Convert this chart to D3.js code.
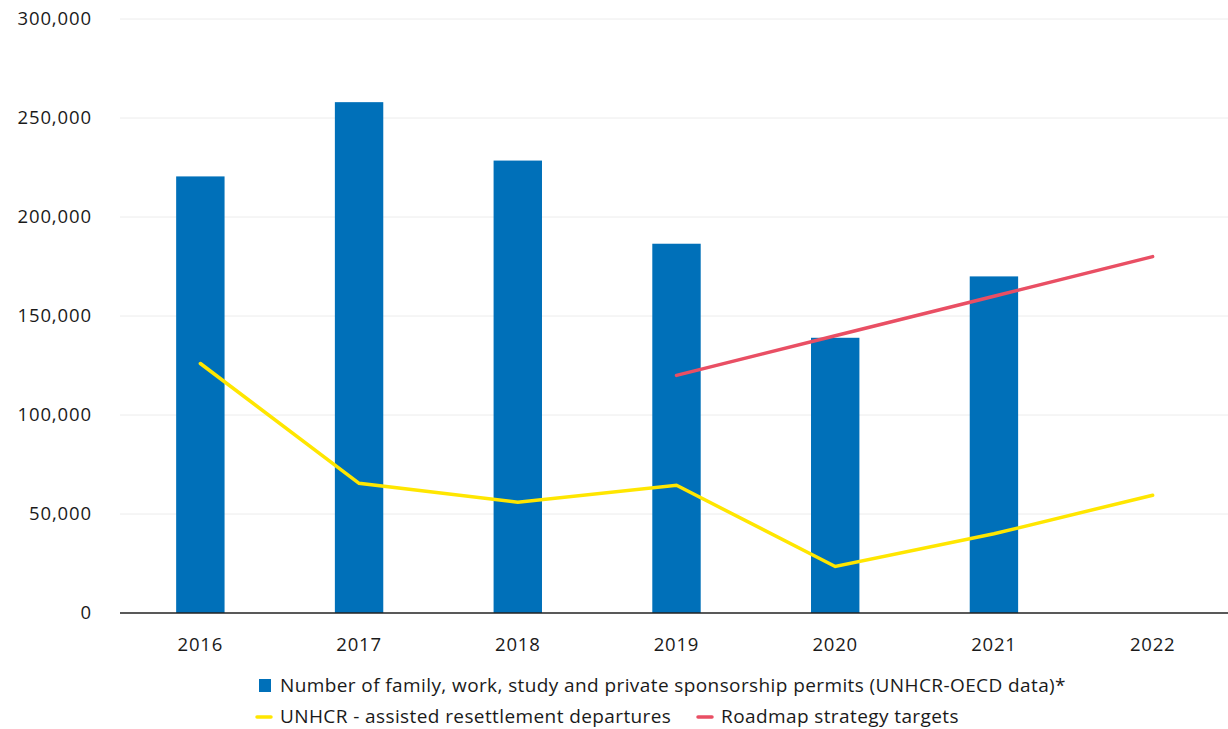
<!DOCTYPE html>
<html><head><meta charset="utf-8">
<script src="https://cdn.jsdelivr.net/npm/d3@7"></script>
<style>body{margin:0;background:#fff}svg{display:block}text{font-family:"Open Sans",Lato,sans-serif}</style>
</head><body><svg id="c" width="1228" height="729"></svg>
<script>
const years = ["2016","2017","2018","2019","2020","2021","2022"];
const permits = [220500, 258000, 228500, 186500, 139000, 170000, null];
const resettlement = [126000, 65500, 56000, 64500, 23500, 40000, 59500];
const targets = [null, null, null, 120000, 140000, 160000, 180000];
const yTicks = [0, 50000, 100000, 150000, 200000, 250000, 300000];

const svg = d3.select("#c");
const x = d3.scaleBand().domain(years).range([121, 1232]).paddingInner(0.695).paddingOuter(0.3475);
const xc = d => x(d) + x.bandwidth()/2;
const y = d3.scaleLinear().domain([0, 300000]).range([613, 19]);

svg.append("g").selectAll("line").data(yTicks.filter(d=>d>0)).join("line")
  .attr("x1",120).attr("x2",1228).attr("y1",d=>y(d)).attr("y2",d=>y(d))
  .attr("stroke","#ececec").attr("stroke-width",1);

svg.append("g").selectAll("text").data(yTicks).join("text")
  .attr("x",92).attr("y",d=>y(d)).attr("dy","0.35em").attr("text-anchor","end")
  .attr("font-size",18.5).attr("letter-spacing",0.9).attr("fill","#1a1a1a").text(d=>d3.format(",")(d));

svg.append("g").selectAll("rect").data(years.map((yr,i)=>({yr,v:permits[i]})).filter(d=>d.v!=null)).join("rect")
  .attr("x",d=>x(d.yr)).attr("width",x.bandwidth()).attr("y",d=>y(d.v)).attr("height",d=>y(0)-y(d.v))
  .attr("fill","#0070b9");

svg.append("line").attr("x1",120).attr("x2",1228).attr("y1",y(0)).attr("y2",y(0)).attr("stroke","#222").attr("stroke-width",1.5);

svg.append("g").selectAll("text").data(years).join("text")
  .attr("x",d=>xc(d)).attr("y",651).attr("text-anchor","middle").attr("font-size",18.5).attr("letter-spacing",0.8).attr("fill","#1a1a1a").text(d=>d);

const line = d3.line().defined(d=>d.v!=null).x(d=>xc(d.yr)).y(d=>y(d.v));
svg.append("path").datum(years.map((yr,i)=>({yr,v:resettlement[i]})))
  .attr("d",line).attr("fill","none").attr("stroke","#ffe600").attr("stroke-width",3.5).attr("stroke-linecap","round");
svg.append("path").datum(years.map((yr,i)=>({yr,v:targets[i]})))
  .attr("d",line).attr("fill","none").attr("stroke","#e94f64").attr("stroke-width",3.5).attr("stroke-linecap","round");

const lg = svg.append("g").attr("font-size",19).attr("letter-spacing",0.4).attr("fill","#1a1a1a");
lg.append("rect").attr("x",259).attr("y",679).attr("width",12).attr("height",13).attr("fill","#0070b9");
lg.append("text").attr("x",280).attr("y",692).text("Number of family, work, study and private sponsorship permits (UNHCR-OECD data)*");
lg.append("line").attr("x1",257).attr("x2",271).attr("y1",717).attr("y2",717).attr("stroke","#ffe600").attr("stroke-width",3.5).attr("stroke-linecap","round");
lg.append("text").attr("x",280).attr("y",723).text("UNHCR - assisted resettlement departures");
lg.append("line").attr("x1",698).attr("x2",712).attr("y1",717).attr("y2",717).attr("stroke","#e94f64").attr("stroke-width",3.5).attr("stroke-linecap","round");
lg.append("text").attr("x",721).attr("y",723).text("Roadmap strategy targets");
</script></body></html>
